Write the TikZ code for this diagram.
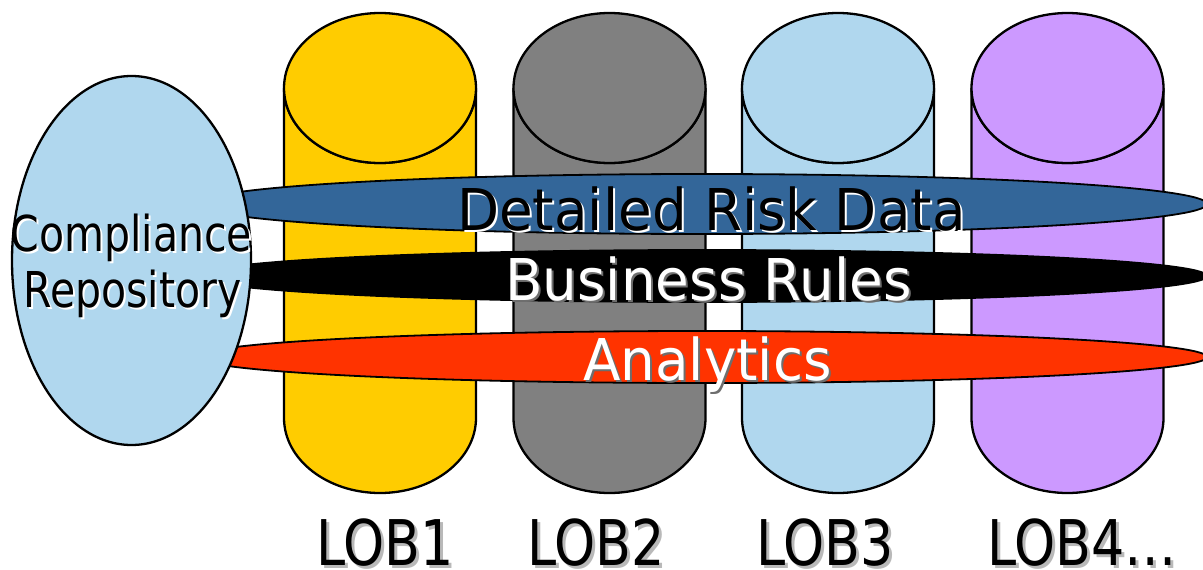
\documentclass[tikz,border=0pt]{standalone}
\usepackage{fontspec}
\setmainfont{DejaVu Sans}[FakeStretch=0.83]
\newfontfamily\bandfont{DejaVu Sans}[FakeStretch=0.95]
\definecolor{lobyellow}{RGB}{255,204,0}
\definecolor{lobgray}{RGB}{128,128,128}
\definecolor{lobblue}{RGB}{176,215,238}
\definecolor{lobpurple}{RGB}{204,153,255}
\definecolor{riskblue}{RGB}{51,102,153}
\definecolor{analyticsred}{RGB}{255,51,0}
\definecolor{lobshadow}{RGB}{185,185,185}
\definecolor{darkshadow}{RGB}{110,110,110}
\begin{document}
\begin{tikzpicture}[x=1pt,y=-1pt,
  cyl/.style={draw=black,line width=2.3pt},
  band/.style={draw=black,line width=1.8pt},
  repotext/.style={inner sep=0pt,anchor=base,font=\fontsize{49.4}{50}\selectfont},
  bandtext/.style={inner sep=0pt,anchor=base west,font=\bandfont\fontsize{57.6}{58}\selectfont},
  lobtext/.style={inner sep=0pt,anchor=base west,font=\fontsize{63}{64}\selectfont},
]
\useasboundingbox (0,0) rectangle (1203,570);
\clip (0,0) rectangle (1203,570);

% four storage cylinders: body with rounded bottom, then the top disc
\foreach \cx/\col in {380/lobyellow,609.5/lobgray,838/lobblue,1067.5/lobpurple}{
  \draw[cyl,fill=\col] (\cx-96,88) -- (\cx-96,418)
      arc[start angle=180,end angle=360,x radius=96,y radius=-75]
      -- (\cx+96,88)
      arc[start angle=0,end angle=180,x radius=96,y radius=75] -- cycle;
  \draw[cyl,fill=\col] (\cx,88) ellipse[x radius=96,y radius=75];
}

% three horizontal layers spanning the lines of business
\draw[band,fill=riskblue] (702,204) ellipse[x radius=505,y radius=30];
\draw[band,fill=black] (702,276) ellipse[x radius=505,y radius=26];
\draw[band,fill=analyticsred] (702,357) ellipse[x radius=505,y radius=26];

% repository
\draw[line width=2.3pt,fill=lobblue] (131.5,260.5) ellipse[x radius=119.5,y radius=184.5];

% repository label
\node[repotext,white] (comp-s) at (133.5,253) {Compliance};
\node[repotext] (comp) at (131.5,251) {Compliance};
\node[repotext,white] (repo-s) at (134.5,309) {Repository};
\node[repotext] (repo) at (132.5,307) {Repository};

% layer labels
\node[bandtext,white] (risk-s) at (459,232) {Detailed Risk Data};
\node[bandtext] (risk) at (457,230) {Detailed Risk Data};
\node[bandtext,darkshadow] (rules-s) at (507,302) {Business Rules};
\node[bandtext,white] (rules) at (505,300) {Business Rules};
\node[bandtext,darkshadow] (anal-s) at (585,382) {Analytics};
\node[bandtext,white] (anal) at (583,380) {Analytics};

% line-of-business labels
\foreach \n/\x/\t in {1/316/LOB1,2/527/LOB2,3/756/LOB3,4/987/LOB4…}{
  \node[lobtext,lobshadow] (lob\n-s) at (\x+3,568) {\t};
  \node[lobtext] (lob\n) at (\x,565) {\t};
}
\end{tikzpicture}
\end{document}
